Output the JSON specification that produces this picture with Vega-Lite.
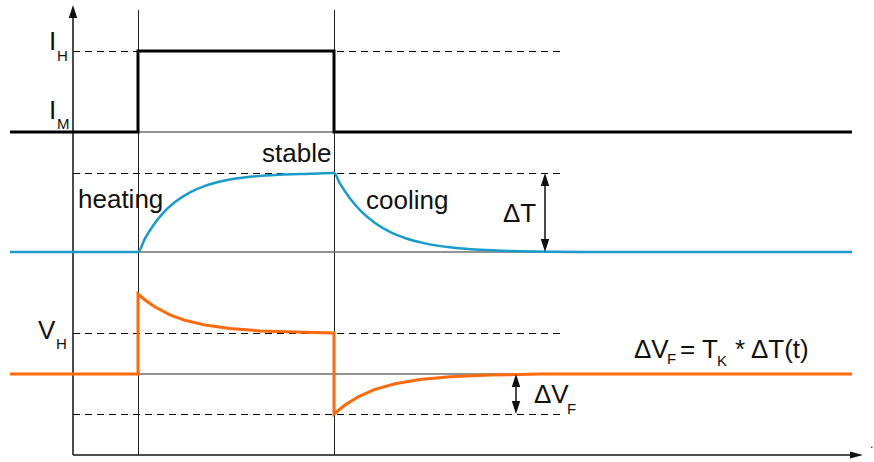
{
  "$schema": "https://vega.github.io/schema/vega-lite/v6.json",
  "width": 874,
  "height": 462,
  "padding": 0,
  "autosize": {"type": "fit", "contains": "padding"},
  "background": "white",
  "config": {"view": {"stroke": null}},
  "datasets": {
    "vlines": [{"x": 138.5, "y": 10, "y2": 455}, {"x": 334.5, "y": 10, "y2": 455}],
    "axes": [{"x": 73, "x2": 73, "y": 18, "y2": 455}, {"x": 73, "x2": 851, "y": 455, "y2": 455}],
    "base": [{"x": 73, "x2": 660, "y": 132}, {"x": 73, "x2": 660, "y": 252}, {"x": 73, "x2": 660, "y": 374}],
    "dashed": [{"x": 73, "x2": 565, "y": 51.5}, {"x": 73, "x2": 565, "y": 173.5}, {"x": 73, "x2": 565, "y": 333.5}, {"x": 73, "x2": 565, "y": 414.5}],
    "current": [
      {"i": 0, "x": 10, "y": 132}, {"i": 1, "x": 138, "y": 132}, {"i": 2, "x": 138, "y": 51},
      {"i": 3, "x": 334, "y": 51}, {"i": 4, "x": 334, "y": 132}, {"i": 5, "x": 852, "y": 132}
    ],
    "temp": [
      {"i": 0, "x": 10, "y": 252}, {"i": 1, "x": 138, "y": 252}, {"i": 2, "x": 145, "y": 238.4},
      {"i": 3, "x": 153, "y": 225.7}, {"i": 4, "x": 163, "y": 213.2}, {"i": 5, "x": 175, "y": 202.1},
      {"i": 6, "x": 190, "y": 192.4}, {"i": 7, "x": 205, "y": 185.9}, {"i": 8, "x": 225, "y": 180.5},
      {"i": 9, "x": 250, "y": 176.8}, {"i": 10, "x": 280, "y": 174.7}, {"i": 11, "x": 310, "y": 173.8},
      {"i": 12, "x": 334, "y": 173}, {"i": 13, "x": 340, "y": 183.7}, {"i": 14, "x": 350, "y": 198.5},
      {"i": 15, "x": 362, "y": 212.1}, {"i": 16, "x": 375, "y": 222.9}, {"i": 17, "x": 390, "y": 231.9},
      {"i": 18, "x": 405, "y": 238}, {"i": 19, "x": 425, "y": 243.4}, {"i": 20, "x": 450, "y": 247.3},
      {"i": 21, "x": 480, "y": 249.8}, {"i": 22, "x": 520, "y": 251.2}, {"i": 23, "x": 580, "y": 252},
      {"i": 24, "x": 852, "y": 252}
    ],
    "volt": [
      {"i": 0, "x": 10, "y": 374}, {"i": 1, "x": 138, "y": 374}, {"i": 2, "x": 138, "y": 294},
      {"i": 3, "x": 145, "y": 300}, {"i": 4, "x": 155, "y": 307}, {"i": 5, "x": 170, "y": 314.8},
      {"i": 6, "x": 185, "y": 320.3}, {"i": 7, "x": 205, "y": 325.1}, {"i": 8, "x": 230, "y": 328.6},
      {"i": 9, "x": 260, "y": 330.9}, {"i": 10, "x": 295, "y": 332.1}, {"i": 11, "x": 334, "y": 333},
      {"i": 12, "x": 334, "y": 414}, {"i": 13, "x": 345, "y": 405}, {"i": 14, "x": 358, "y": 396.9},
      {"i": 15, "x": 375, "y": 389.4}, {"i": 16, "x": 395, "y": 383.7}, {"i": 17, "x": 420, "y": 379.4},
      {"i": 18, "x": 450, "y": 376.7}, {"i": 19, "x": 490, "y": 375.1}, {"i": 20, "x": 540, "y": 374},
      {"i": 21, "x": 852, "y": 374}
    ],
    "dim": [{"x": 545, "y": 179, "y2": 246}, {"x": 516, "y": 380, "y2": 408}],
    "up": [{"x": 73, "y": 11.5}, {"x": 545, "y": 179.5}, {"x": 516, "y": 380.5}],
    "down": [{"x": 545, "y": 245.5}, {"x": 516, "y": 407.5}],
    "right": [{"x": 856.5, "y": 455}],
    "labels": [
      {"x": 49, "y": 50, "t": "I"},
      {"x": 49, "y": 119, "t": "I"},
      {"x": 38, "y": 339, "t": "V"},
      {"x": 262, "y": 162, "t": "stable"},
      {"x": 78, "y": 208, "t": "heating"},
      {"x": 366, "y": 209, "t": "cooling"},
      {"x": 503, "y": 222, "t": "ΔT"},
      {"x": 634, "y": 358, "t": "ΔV"},
      {"x": 680, "y": 358, "t": "= T"},
      {"x": 735, "y": 358, "t": "* ΔT(t)"},
      {"x": 534, "y": 403, "t": "ΔV"}
    ],
    "subs": [
      {"x": 57, "y": 61, "t": "H"},
      {"x": 57, "y": 129, "t": "M"},
      {"x": 56, "y": 349, "t": "H"},
      {"x": 667, "y": 364, "t": "F"},
      {"x": 717, "y": 366, "t": "K"},
      {"x": 567, "y": 414, "t": "F"}
    ],
    "dot": [{"x": 870, "y": 448, "t": "."}]
  },
  "layer": [
    {
      "data": {"name": "vlines"},
      "mark": {"type": "rule", "color": "#222222", "strokeWidth": 1},
      "encoding": {
        "x": {"field": "x", "type": "quantitative", "scale": {"domain": [0, 874], "nice": false, "zero": false}, "axis": null},
        "y": {"field": "y", "type": "quantitative", "scale": {"domain": [0, 462], "nice": false, "zero": false, "reverse": true}, "axis": null},
        "y2": {"field": "y2"}
      }
    },
    {
      "data": {"name": "base"},
      "mark": {"type": "rule", "color": "#6e6e6e", "strokeWidth": 1.5},
      "encoding": {
        "x": {"field": "x", "type": "quantitative", "scale": {"domain": [0, 874], "nice": false, "zero": false}, "axis": null},
        "x2": {"field": "x2"},
        "y": {"field": "y", "type": "quantitative", "scale": {"domain": [0, 462], "nice": false, "zero": false, "reverse": true}, "axis": null}
      }
    },
    {
      "data": {"name": "axes"},
      "mark": {"type": "rule", "color": "#111111", "strokeWidth": 1.5},
      "encoding": {
        "x": {"field": "x", "type": "quantitative", "scale": {"domain": [0, 874], "nice": false, "zero": false}, "axis": null},
        "x2": {"field": "x2"},
        "y": {"field": "y", "type": "quantitative", "scale": {"domain": [0, 462], "nice": false, "zero": false, "reverse": true}, "axis": null},
        "y2": {"field": "y2"}
      }
    },
    {
      "data": {"name": "dashed"},
      "mark": {"type": "rule", "color": "#000000", "strokeWidth": 1, "strokeDash": [7, 5]},
      "encoding": {
        "x": {"field": "x", "type": "quantitative", "scale": {"domain": [0, 874], "nice": false, "zero": false}, "axis": null},
        "x2": {"field": "x2"},
        "y": {"field": "y", "type": "quantitative", "scale": {"domain": [0, 462], "nice": false, "zero": false, "reverse": true}, "axis": null}
      }
    },
    {
      "data": {"name": "current"},
      "mark": {"type": "line", "color": "#000000", "strokeWidth": 3, "strokeJoin": "miter", "strokeCap": "butt"},
      "encoding": {
        "x": {"field": "x", "type": "quantitative", "scale": {"domain": [0, 874], "nice": false, "zero": false}, "axis": null},
        "y": {"field": "y", "type": "quantitative", "scale": {"domain": [0, 462], "nice": false, "zero": false, "reverse": true}, "axis": null},
        "order": {"field": "i", "type": "quantitative"}
      }
    },
    {
      "data": {"name": "temp"},
      "mark": {"type": "line", "color": "#1a9bc9", "strokeWidth": 2.5, "strokeJoin": "round", "interpolate": "monotone"},
      "encoding": {
        "x": {"field": "x", "type": "quantitative", "scale": {"domain": [0, 874], "nice": false, "zero": false}, "axis": null},
        "y": {"field": "y", "type": "quantitative", "scale": {"domain": [0, 462], "nice": false, "zero": false, "reverse": true}, "axis": null},
        "order": {"field": "i", "type": "quantitative"}
      }
    },
    {
      "data": {"name": "volt"},
      "mark": {"type": "line", "color": "#ff6a0d", "strokeWidth": 3, "strokeJoin": "miter"},
      "encoding": {
        "x": {"field": "x", "type": "quantitative", "scale": {"domain": [0, 874], "nice": false, "zero": false}, "axis": null},
        "y": {"field": "y", "type": "quantitative", "scale": {"domain": [0, 462], "nice": false, "zero": false, "reverse": true}, "axis": null},
        "order": {"field": "i", "type": "quantitative"}
      }
    },
    {
      "data": {"name": "dim"},
      "mark": {"type": "rule", "color": "#111111", "strokeWidth": 1.5},
      "encoding": {
        "x": {"field": "x", "type": "quantitative", "scale": {"domain": [0, 874], "nice": false, "zero": false}, "axis": null},
        "y": {"field": "y", "type": "quantitative", "scale": {"domain": [0, 462], "nice": false, "zero": false, "reverse": true}, "axis": null},
        "y2": {"field": "y2"}
      }
    },
    {
      "data": {"name": "up"},
      "mark": {"type": "point", "filled": true, "color": "#111111", "opacity": 1, "size": 169, "strokeWidth": 0, "shape": "M0,-1L0.65,1L-0.65,1Z"},
      "encoding": {
        "x": {"field": "x", "type": "quantitative", "scale": {"domain": [0, 874], "nice": false, "zero": false}, "axis": null},
        "y": {"field": "y", "type": "quantitative", "scale": {"domain": [0, 462], "nice": false, "zero": false, "reverse": true}, "axis": null}
      }
    },
    {
      "data": {"name": "down"},
      "mark": {"type": "point", "filled": true, "color": "#111111", "opacity": 1, "size": 169, "strokeWidth": 0, "shape": "M0,1L0.65,-1L-0.65,-1Z"},
      "encoding": {
        "x": {"field": "x", "type": "quantitative", "scale": {"domain": [0, 874], "nice": false, "zero": false}, "axis": null},
        "y": {"field": "y", "type": "quantitative", "scale": {"domain": [0, 462], "nice": false, "zero": false, "reverse": true}, "axis": null}
      }
    },
    {
      "data": {"name": "right"},
      "mark": {"type": "point", "filled": true, "color": "#111111", "opacity": 1, "size": 169, "strokeWidth": 0, "shape": "M1,0L-1,0.55L-1,-0.55Z"},
      "encoding": {
        "x": {"field": "x", "type": "quantitative", "scale": {"domain": [0, 874], "nice": false, "zero": false}, "axis": null},
        "y": {"field": "y", "type": "quantitative", "scale": {"domain": [0, 462], "nice": false, "zero": false, "reverse": true}, "axis": null}
      }
    },
    {
      "data": {"name": "labels"},
      "mark": {"type": "text", "align": "left", "baseline": "alphabetic", "font": "Liberation Sans", "fontSize": 26, "color": "#111111"},
      "encoding": {
        "x": {"field": "x", "type": "quantitative", "scale": {"domain": [0, 874], "nice": false, "zero": false}, "axis": null},
        "y": {"field": "y", "type": "quantitative", "scale": {"domain": [0, 462], "nice": false, "zero": false, "reverse": true}, "axis": null},
        "text": {"field": "t"}
      }
    },
    {
      "data": {"name": "subs"},
      "mark": {"type": "text", "align": "left", "baseline": "alphabetic", "font": "Liberation Sans", "fontSize": 15, "color": "#111111"},
      "encoding": {
        "x": {"field": "x", "type": "quantitative", "scale": {"domain": [0, 874], "nice": false, "zero": false}, "axis": null},
        "y": {"field": "y", "type": "quantitative", "scale": {"domain": [0, 462], "nice": false, "zero": false, "reverse": true}, "axis": null},
        "text": {"field": "t"}
      }
    },
    {
      "data": {"name": "dot"},
      "mark": {"type": "text", "align": "left", "baseline": "alphabetic", "font": "Liberation Sans", "fontSize": 12, "color": "#111111"},
      "encoding": {
        "x": {"field": "x", "type": "quantitative", "scale": {"domain": [0, 874], "nice": false, "zero": false}, "axis": null},
        "y": {"field": "y", "type": "quantitative", "scale": {"domain": [0, 462], "nice": false, "zero": false, "reverse": true}, "axis": null},
        "text": {"field": "t"}
      }
    }
  ]
}
